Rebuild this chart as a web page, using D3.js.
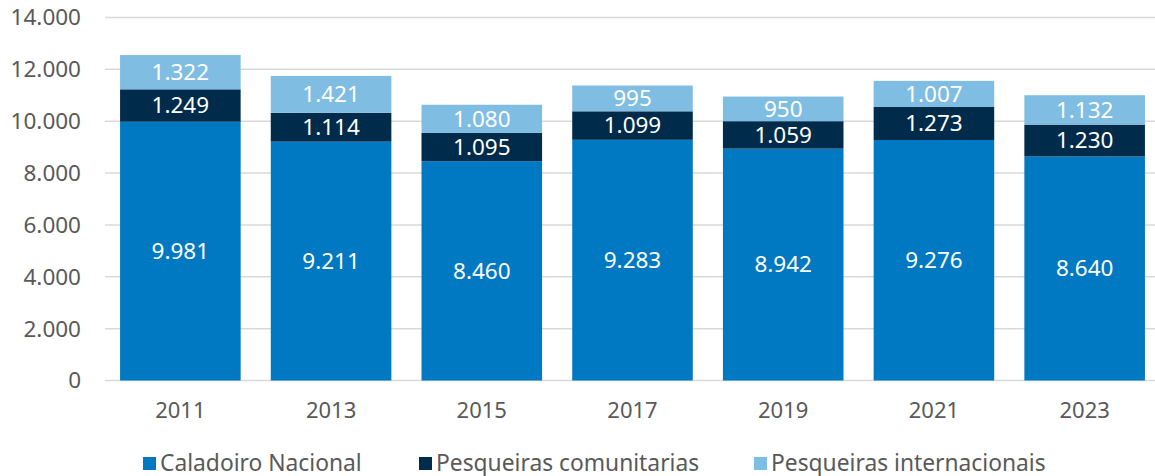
<!DOCTYPE html>
<html>
<head>
<meta charset="utf-8">
<script src="https://cdn.jsdelivr.net/npm/d3@7"></script>
<style>
  body { margin: 0; background: #fff; }
  svg { display: block; font-family: "Noto Sans", sans-serif; }
</style>
</head>
<body>
<div id="chart"></div>
<script>
const years = ["2011", "2013", "2015", "2017", "2019", "2021", "2023"];
const caladoiro = [9981, 9211, 8460, 9283, 8942, 9276, 8640];
const comunitarias = [1249, 1114, 1095, 1099, 1059, 1273, 1230];
const internacionais = [1322, 1421, 1080, 995, 950, 1007, 1132];
const seriesNames = ["Caladoiro Nacional", "Pesqueiras comunitarias", "Pesqueiras internacionais"];
const yTicks = [0, 2000, 4000, 6000, 8000, 10000, 12000, 14000];

const width = 1155;
const height = 476;
const colors = ["#0079c2", "#002b4a", "#80bde3"];
const textColor = "#595959";

const locale = d3.formatLocale({ decimal: ",", thousands: ".", grouping: [3], currency: ["", "€"] });
const fmt = locale.format(",d");

const rows = years.map((y, i) => ({
  year: y,
  [seriesNames[0]]: caladoiro[i],
  [seriesNames[1]]: comunitarias[i],
  [seriesNames[2]]: internacionais[i],
}));
const stacked = d3.stack().keys(seriesNames)(rows);

const x = d3.scaleBand().domain(years).range([105, 1160]).paddingInner(0.2).paddingOuter(0.1);
const y = d3.scaleLinear().domain([0, 14000]).range([380.5, 17.5]);

const svg = d3.select("#chart").append("svg").attr("width", width).attr("height", height);

// gridlines
svg.append("g")
  .selectAll("line")
  .data(yTicks)
  .join("line")
  .attr("x1", 105)
  .attr("x2", width)
  .attr("y1", (d) => y(d))
  .attr("y2", (d) => y(d))
  .attr("stroke", "#d9d9d9")
  .attr("stroke-width", 1.5);

// y labels
svg.append("g")
  .attr("fill", textColor)
  .attr("font-size", 22.5)
  .attr("text-anchor", "end")
  .selectAll("text")
  .data(yTicks)
  .join("text")
  .attr("x", 81)
  .attr("y", (d) => y(d))
  .attr("dy", "0.35em")
  .text((d) => fmt(d));

// bars
const layer = svg.append("g")
  .selectAll("g")
  .data(stacked)
  .join("g")
  .attr("fill", (d, i) => colors[i]);

layer.selectAll("rect")
  .data((d) => d)
  .join("rect")
  .attr("x", (d) => x(d.data.year))
  .attr("width", x.bandwidth())
  .attr("y", (d) => y(d[1]))
  .attr("height", (d) => y(d[0]) - y(d[1]));

// value labels
svg.append("g")
  .selectAll("g")
  .data(stacked)
  .join("g")
  .selectAll("text")
  .data((d) => d.map((v) => ({ v, key: d.key })))
  .join("text")
  .attr("fill", "#fff")
  .attr("font-size", 22.5)
  .attr("text-anchor", "middle")
  .attr("x", (d) => x(d.v.data.year) + x.bandwidth() / 2)
  .attr("y", (d) => (y(d.v[0]) + y(d.v[1])) / 2)
  .attr("dy", "0.35em")
  .text((d) => fmt(d.v[1] - d.v[0]));

// x labels
svg.append("g")
  .attr("fill", textColor)
  .attr("font-size", 22)
  .attr("text-anchor", "middle")
  .selectAll("text")
  .data(years)
  .join("text")
  .attr("x", (d) => x(d) + x.bandwidth() / 2)
  .attr("y", 410)
  .attr("dy", "0.35em")
  .text((d) => d);

// legend
const legendX = [143, 419, 754];
const legend = svg.append("g")
  .selectAll("g")
  .data(seriesNames)
  .join("g")
  .attr("transform", (d, i) => `translate(${legendX[i]},457)`);

legend.append("rect")
  .attr("width", 13)
  .attr("height", 13)
  .attr("fill", (d, i) => colors[i]);

legend.append("text")
  .attr("x", 17)
  .attr("y", 6.5)
  .attr("dy", "0.33em")
  .attr("fill", textColor)
  .attr("font-size", 22.8)
  .text((d) => d);
</script>
</body>
</html>
